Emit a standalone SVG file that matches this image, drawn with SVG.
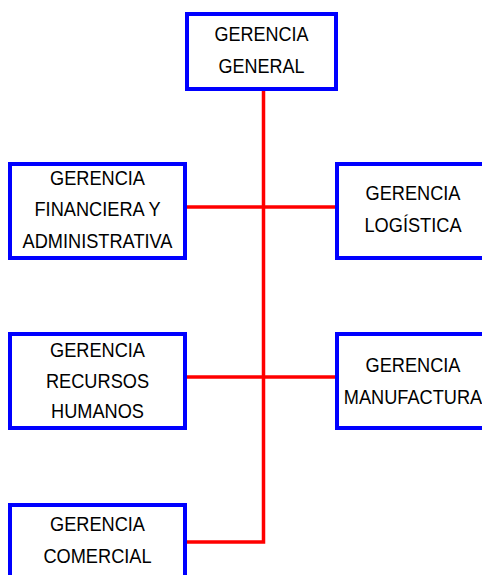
<svg xmlns="http://www.w3.org/2000/svg" width="482" height="575" viewBox="0 0 482 575">
  <style>
    .box { fill: #ffffff; stroke: #0000ff; stroke-width: 4; }
    .link { fill: none; stroke: #ff0000; stroke-width: 3.5; }
    .label { font-family: "Liberation Sans", Arial, sans-serif; font-size: 20px; fill: #000000; text-anchor: middle; }
  </style>
  <rect width="482" height="575" fill="#ffffff"/>

  <!-- connectors -->
  <g id="connectors">
    <path class="link" d="M263.5 91 V542 H187"/>
    <path class="link" d="M187 207 H335"/>
    <path class="link" d="M187 377 H335"/>
  </g>

  <g id="gerencia-general">
    <rect class="box" x="187" y="14" width="149" height="75"/>
    <g class="label" transform="translate(261.5 0) scale(0.9 1)">
      <text x="0" y="41">GERENCIA</text>
      <text x="0" y="73">GENERAL</text>
    </g>
  </g>

  <g id="gerencia-financiera">
    <rect class="box" x="10" y="164" width="175" height="94"/>
    <g class="label" transform="translate(97.5 0) scale(0.91 1)">
      <text x="0" y="185">GERENCIA</text>
      <text x="0" y="216">FINANCIERA Y</text>
      <text x="0" y="248">ADMINISTRATIVA</text>
    </g>
  </g>

  <g id="gerencia-logistica">
    <rect class="box" x="337" y="164" width="170" height="94"/>
    <g class="label" transform="translate(413 0) scale(0.91 1)">
      <text x="0" y="200">GERENCIA</text>
      <text x="0" y="232">LOGÍSTICA</text>
    </g>
  </g>

  <g id="gerencia-rrhh">
    <rect class="box" x="10" y="334" width="175" height="94"/>
    <g class="label" transform="translate(97.5 0) scale(0.91 1)">
      <text x="0" y="357">GERENCIA</text>
      <text x="0" y="388">RECURSOS</text>
      <text x="0" y="418">HUMANOS</text>
    </g>
  </g>

  <g id="gerencia-manufactura">
    <rect class="box" x="337" y="334" width="170" height="94"/>
    <g class="label" transform="translate(413 0) scale(0.91 1)">
      <text x="0" y="372">GERENCIA</text>
      <text x="0" y="404">MANUFACTURA</text>
    </g>
  </g>

  <g id="gerencia-comercial">
    <rect class="box" x="10" y="505" width="175" height="100"/>
    <g class="label" transform="translate(97.5 0) scale(0.91 1)">
      <text x="0" y="531">GERENCIA</text>
      <text x="0" y="563">COMERCIAL</text>
    </g>
  </g>
</svg>
